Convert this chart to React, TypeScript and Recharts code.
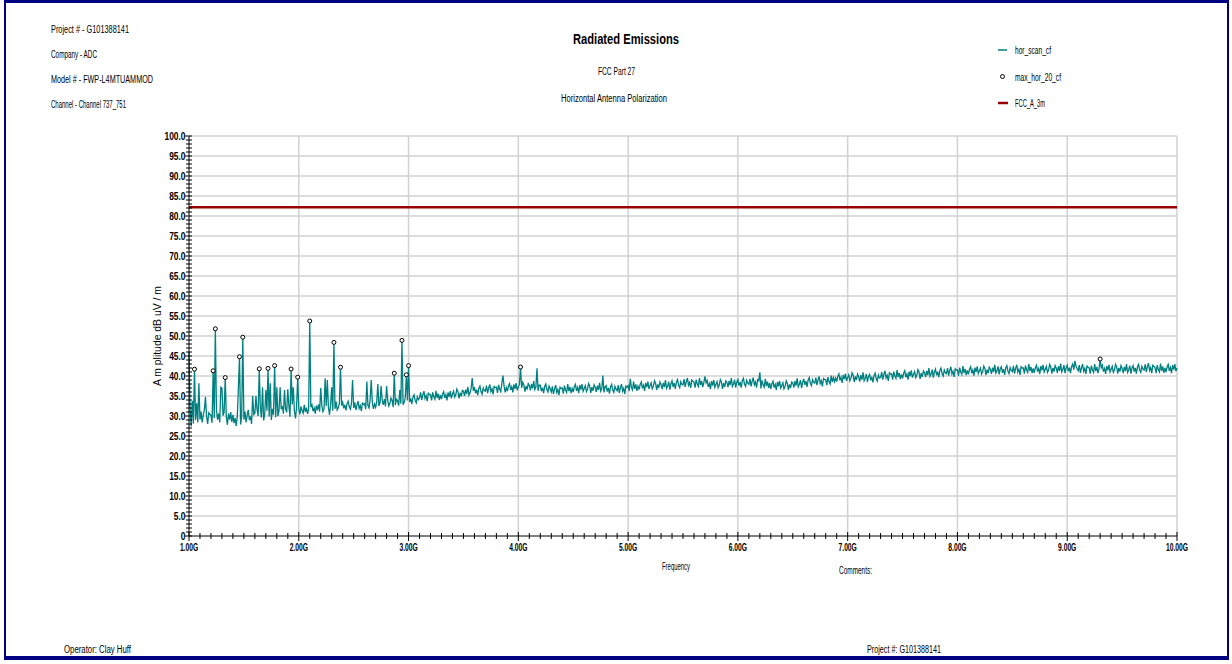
import React from 'react';
import { ComposedChart, Line, XAxis, YAxis, CartesianGrid } from 'recharts';

const FONT = "'Liberation Sans', Arial, sans-serif";
const TEAL = '#008080';
const LIMIT_RED = '#990000';
const NAVY = '#000080';

// hor_scan_cf trace, 1.00 GHz to 10.00 GHz, one reading every 10 MHz (dBuV/m)
const scanStartGHz = 1.0;
const scanStepGHz = 0.01;
const scanLevels: number[] = [
  // 1.0 GHz
  46.0, 31.5, 27.4, 33.8, 28.1, 41.7, 29.0, 33.2, 28.4, 38.2,
  29.1, 31.1, 28.4, 30.2, 31.5, 34.8, 29.9, 28.0, 30.8, 30.4,
  30.2, 28.3, 41.3, 29.5, 51.8, 31.6, 29.1, 30.6, 28.4, 37.2,
  37.0, 30.1, 30.9, 39.6, 29.8, 27.8, 30.6, 29.1, 31.0, 28.5,
  30.3, 28.2, 29.5, 27.5, 29.9, 37.0, 44.8, 27.9, 30.0, 49.7,
  29.1, 31.1, 28.4, 30.2, 31.5, 29.0, 29.9, 28.0, 35.0, 30.4,
  30.7, 35.0, 31.6, 30.0, 41.8, 32.1, 29.6, 37.2, 28.9, 30.6,
  36.5, 31.3, 41.9, 29.9, 38.2, 29.0, 31.8, 30.3, 42.6, 29.7,
  37.2, 30.0, 31.3, 37.2, 31.7, 32.5, 30.6, 36.5, 31.8, 30.9,
  36.7, 32.5, 29.8, 41.75, 32.9, 37.2, 31.3, 29.4, 32.2, 39.7,
  // 2.0 GHz
  31.8, 30.4, 32.4, 31.3, 30.7, 32.8, 31.0, 32.1, 30.5, 31.7,
  53.75, 32.2, 32.8, 31.2, 32.0, 30.6, 32.6, 31.5, 32.9, 31.1,
  37.0, 32.6, 31.1, 31.7, 39.4, 32.5, 39.0, 32.2, 30.3, 32.8,
  37.2, 31.3, 48.4, 31.8, 33.6, 31.5, 32.1, 33.2, 42.2, 32.6,
  33.4, 31.9, 32.8, 31.4, 33.1, 33.7, 32.3, 31.7, 33.2, 39.0,
  32.0, 33.4, 31.5, 32.8, 33.7, 31.9, 32.6, 31.2, 33.2, 32.9,
  33.1, 31.7, 38.6, 32.6, 32.0, 34.1, 39.0, 33.4, 31.8, 33.0,
  32.2, 33.5, 38.0, 32.5, 33.3, 37.5, 33.9, 32.8, 34.2, 32.4,
  37.5, 34.0, 32.5, 33.1, 34.5, 33.9, 32.2, 40.7, 32.7, 34.2,
  33.8, 32.6, 36.5, 33.1, 48.9, 32.8, 33.4, 34.5, 40.3, 33.9,
  // 3.0 GHz
  42.6, 33.5, 34.4, 33.0, 34.7, 35.3, 33.9, 33.3, 34.8, 34.1,
  34.5, 35.9, 34.0, 35.3, 36.2, 34.4, 35.1, 33.7, 35.7, 35.4,
  35.3, 33.9, 35.9, 34.8, 34.2, 36.3, 34.5, 35.6, 34.0, 35.2,
  34.2, 35.5, 36.1, 34.5, 35.3, 33.9, 35.9, 34.8, 36.2, 34.4,
  35.5, 36.2, 34.7, 35.3, 36.7, 36.1, 34.4, 35.8, 34.9, 36.4,
  36.2, 35.0, 36.6, 35.5, 37.3, 35.2, 35.8, 36.9, 39.5, 36.3,
  37.2, 35.7, 36.6, 35.2, 36.9, 37.5, 36.1, 35.5, 37.0, 36.3,
  36.2, 37.6, 35.7, 37.0, 37.9, 36.1, 36.8, 35.4, 37.4, 37.1,
  37.2, 35.8, 37.8, 36.7, 36.1, 38.2, 40.1, 37.5, 35.9, 37.1,
  36.2, 37.5, 38.1, 36.5, 37.3, 35.9, 37.9, 36.8, 38.2, 36.4,
  // 4.0 GHz
  37.2, 37.9, 42.25, 37.0, 38.4, 37.8, 36.1, 37.5, 36.6, 38.1,
  37.6, 36.4, 38.0, 36.9, 38.7, 36.6, 37.2, 41.9, 36.3, 37.7,
  37.7, 36.2, 37.1, 35.7, 37.4, 38.0, 36.6, 36.0, 37.5, 36.8,
  36.0, 37.4, 35.5, 36.8, 37.7, 35.9, 36.6, 35.2, 37.2, 36.9,
  37.0, 35.6, 37.6, 36.5, 35.9, 38.0, 36.2, 37.3, 35.7, 36.9,
  36.0, 37.3, 37.9, 36.3, 37.1, 35.7, 37.7, 36.6, 38.0, 36.2,
  36.9, 37.6, 36.1, 36.7, 38.1, 37.5, 35.8, 37.2, 36.3, 37.8,
  37.2, 36.0, 37.6, 36.5, 38.3, 36.2, 36.8, 40.1, 35.9, 37.3,
  37.6, 36.1, 37.0, 35.6, 37.3, 37.9, 36.5, 35.9, 37.4, 36.7,
  36.3, 37.7, 35.8, 37.1, 38.0, 36.2, 36.9, 35.5, 37.5, 37.2,
  // 5.0 GHz
  37.6, 36.2, 39.3, 37.1, 36.5, 38.6, 36.8, 37.9, 36.3, 37.5,
  36.6, 37.9, 38.5, 36.9, 37.7, 36.3, 38.3, 37.2, 38.6, 36.8,
  37.6, 38.3, 36.8, 37.4, 38.8, 38.2, 36.5, 37.9, 37.0, 38.5,
  37.9, 36.7, 38.3, 37.2, 39.0, 36.9, 37.5, 38.6, 36.6, 38.0,
  38.8, 37.3, 38.2, 36.8, 38.5, 39.1, 37.7, 37.1, 38.6, 37.9,
  37.8, 39.2, 37.3, 38.6, 39.5, 37.7, 38.4, 37.0, 39.0, 38.7,
  38.5, 37.1, 39.1, 38.0, 37.4, 39.5, 37.7, 38.8, 37.2, 38.4,
  39.9, 38.3, 38.9, 37.3, 38.1, 36.7, 38.7, 37.6, 39.0, 37.2,
  37.9, 38.6, 37.1, 37.7, 39.1, 38.5, 36.8, 38.2, 37.3, 38.8,
  38.4, 37.2, 38.8, 37.7, 39.5, 37.4, 38.0, 39.1, 37.1, 38.5,
  // 6.0 GHz
  39.1, 37.6, 38.5, 37.1, 38.8, 39.4, 38.0, 37.4, 38.9, 38.2,
  37.9, 39.3, 37.4, 38.7, 39.6, 37.8, 38.5, 37.1, 39.1, 38.8,
  40.9, 36.9, 38.9, 37.8, 37.2, 39.3, 37.5, 38.6, 37.0, 38.2,
  36.8, 38.1, 38.7, 37.1, 37.9, 36.5, 38.5, 37.4, 38.8, 37.0,
  37.6, 38.3, 36.8, 37.4, 38.8, 38.2, 36.5, 37.9, 37.0, 38.5,
  38.3, 37.1, 38.7, 37.6, 39.4, 37.3, 37.9, 39.0, 37.0, 38.4,
  39.3, 37.8, 38.7, 37.3, 39.0, 39.6, 38.2, 37.6, 39.1, 38.4,
  38.2, 39.6, 37.7, 39.0, 39.9, 38.1, 38.8, 37.4, 39.4, 39.1,
  39.1, 37.7, 39.7, 38.6, 38.0, 40.1, 38.5, 39.6, 38.6, 39.5,
  38.6, 39.9, 40.5, 38.9, 39.7, 38.3, 40.3, 39.2, 40.6, 38.8,
  // 7.0 GHz
  39.6, 40.3, 38.8, 39.4, 40.8, 40.2, 38.5, 39.9, 39.0, 40.5,
  39.8, 38.6, 40.2, 39.1, 40.9, 38.8, 39.4, 40.5, 38.5, 39.9,
  40.4, 38.9, 39.8, 38.4, 40.1, 40.7, 39.3, 38.7, 40.2, 39.5,
  39.6, 41.0, 39.1, 40.4, 41.3, 39.5, 40.2, 38.8, 40.8, 40.5,
  40.5, 39.1, 41.1, 40.0, 39.4, 41.5, 39.7, 40.8, 39.2, 40.4,
  39.4, 40.7, 41.3, 39.7, 40.5, 39.1, 41.1, 40.0, 41.4, 39.6,
  40.4, 41.1, 39.6, 40.2, 41.6, 41.0, 39.3, 40.7, 39.8, 41.3,
  40.9, 39.7, 41.3, 40.2, 42.0, 39.9, 40.5, 41.6, 39.6, 41.0,
  41.7, 40.2, 41.1, 39.7, 41.4, 42.0, 40.6, 40.0, 41.5, 40.8,
  40.6, 42.0, 40.1, 41.4, 42.3, 40.5, 41.2, 39.8, 41.8, 41.5,
  // 8.0 GHz
  41.5, 40.1, 42.1, 41.0, 40.4, 42.5, 40.7, 41.8, 40.2, 41.4,
  40.4, 41.7, 42.3, 40.7, 41.5, 40.1, 42.1, 41.0, 42.4, 40.6,
  41.3, 42.0, 40.5, 41.1, 42.5, 41.9, 40.2, 41.6, 40.7, 42.2,
  41.7, 40.5, 42.1, 41.0, 42.8, 40.7, 41.3, 42.4, 40.4, 41.8,
  42.3, 40.8, 41.7, 40.3, 42.0, 42.6, 41.2, 40.6, 42.1, 41.4,
  41.1, 42.5, 40.6, 41.9, 42.8, 41.0, 41.7, 40.3, 42.3, 42.0,
  42.0, 40.6, 42.6, 41.5, 40.9, 43.0, 41.2, 42.3, 40.7, 41.9,
  40.8, 42.1, 42.7, 41.1, 41.9, 40.5, 42.5, 41.4, 42.8, 41.0,
  41.7, 42.4, 40.9, 41.5, 42.9, 42.3, 40.6, 42.0, 41.1, 42.6,
  42.0, 40.8, 42.4, 41.3, 43.1, 41.0, 41.6, 42.7, 40.7, 42.1,
  // 9.0 GHz
  42.7, 41.2, 42.1, 40.7, 42.4, 43.0, 41.6, 43.8, 42.5, 41.8,
  41.3, 42.7, 40.8, 42.1, 43.0, 41.2, 41.9, 40.5, 42.5, 42.2,
  42.0, 40.6, 42.6, 41.5, 40.9, 43.0, 41.2, 42.3, 40.7, 41.9,
  44.25, 42.1, 42.7, 41.1, 41.9, 40.5, 42.5, 41.4, 42.8, 41.0,
  41.7, 42.4, 40.9, 41.5, 42.9, 42.3, 40.6, 42.0, 41.1, 42.6,
  41.9, 40.7, 42.3, 41.2, 43.0, 40.9, 41.5, 42.6, 40.6, 42.0,
  42.6, 41.1, 42.0, 40.6, 42.3, 42.9, 41.5, 40.9, 42.4, 41.7,
  41.5, 42.9, 41.0, 42.3, 43.2, 41.4, 42.1, 40.7, 42.7, 42.4,
  42.1, 40.7, 42.7, 41.6, 41.0, 43.1, 41.3, 42.4, 40.8, 42.0,
  41.0, 42.3, 42.9, 41.3, 42.1, 40.7, 42.7, 41.6, 43.0, 41.2,
  // 10.0 GHz
  42.0,
];

// max_hor_20_cf peak list
const peakFreqs = [1.05, 1.22, 1.24, 1.33, 1.46, 1.49, 1.64, 1.72, 1.78, 1.93, 1.99, 2.1, 2.32, 2.38, 2.87, 2.94, 2.98, 3.0, 4.02, 9.3];
const peakLevels = [41.7, 41.3, 51.8, 39.6, 44.8, 49.7, 41.8, 41.9, 42.6, 41.75, 39.7, 53.75, 48.4, 42.2, 40.7, 48.9, 40.3, 42.6, 42.25, 44.25];

// FCC_A_3m limit
const limitFreqs = [1, 10];
const limitLevels = [82.2, 82.2];

const freqMajorTicks = [1, 2, 3, 4, 5, 6, 7, 8, 9, 10];
const levelMajorTicks = [0, 5, 10, 15, 20, 25, 30, 35, 40, 45, 50, 55, 60, 65, 70, 75, 80, 85, 90, 95, 100];

// minor ticks: every 0.1 GHz and every 1 dB
const freqTicks: number[] = [];
for (let i = 0; i <= 90; i++) freqTicks.push(Math.round((1 + i * 0.1) * 10) / 10);
const levelTicks: number[] = [];
for (let i = 0; i <= 100; i++) levelTicks.push(i);

const scanData = scanLevels.map((v, i) => ({ f: Math.round((scanStartGHz + i * scanStepGHz) * 100) / 100, v }));
const peakData = peakFreqs.map((f, i) => ({ f, v: peakLevels[i] }));
const limitData = limitFreqs.map((f, i) => ({ f, v: limitLevels[i] }));

const FreqTick = (props: any) => {
  const { x, y, payload } = props;
  const v = payload.value as number;
  const major = Math.abs(v - Math.round(v)) < 1e-6;
  return (
    <g>
      <line x1={x} x2={x} y1={y - (major ? 4 : 3)} y2={y + (major ? 5 : 3)} stroke="#000" strokeWidth={1} />
      {major && (
        <text transform={`translate(${x},${y + 15}) scale(0.67,1)`} textAnchor="middle" fontSize={10} fontWeight="bold" fontFamily={FONT} fill="#000">
          {v.toFixed(2)}G
        </text>
      )}
    </g>
  );
};

const LevelTick = (props: any) => {
  const { x, y, payload } = props;
  const v = payload.value as number;
  const major = v % 5 === 0;
  return (
    <g>
      <line x1={x - (major ? 4 : 3)} x2={x + 3} y1={y} y2={y} stroke="#000" strokeWidth={1} />
      {major && (
        <text transform={`translate(${x - 3.5},${y + 3.8}) scale(0.8,1)`} textAnchor="end" fontSize={10.5} fontWeight="bold" fontFamily={FONT} fill="#000">
          {v === 0 ? '0' : v.toFixed(1)}
        </text>
      )}
    </g>
  );
};

const PeakDot = (props: any) => {
  const { cx, cy, index } = props;
  return <circle key={index} cx={cx} cy={cy} r={2} fill="#fff" stroke="#000" strokeWidth={1} />;
};

const Txt = ({ x, y, w, size = 10, bold = false, children }: any) => (
  <text x={x} y={y} fontSize={size} fontWeight={bold ? 'bold' : 'normal'} fontFamily={FONT} fill="#000" textLength={w} lengthAdjust="spacingAndGlyphs">
    {children}
  </text>
);

export default function App() {
  return (
    <div style={{ position: 'absolute', left: 0, top: 0, width: 1232, height: 664, background: '#fff' }}>
      <div
        style={{
          position: 'absolute',
          left: 4,
          top: 0,
          width: 1225,
          height: 660,
          boxSizing: 'border-box',
          borderTop: `3px solid ${NAVY}`,
          borderLeft: `2px solid ${NAVY}`,
          borderRight: `2px solid ${NAVY}`,
          borderBottom: `4px solid ${NAVY}`,
        }}
      />
      <div style={{ position: 'absolute', left: 0, top: 0 }}>
        <ComposedChart width={1232} height={664} margin={{ top: 136, right: 55, bottom: 127, left: 188 }}>
          <CartesianGrid
            stroke="#d2d2d2"
            strokeWidth={1.5}
            horizontalValues={levelMajorTicks.filter((v) => v > 0)}
            verticalValues={freqMajorTicks.filter((v) => v > 1)}
          />
          <XAxis
            type="number"
            dataKey="f"
            domain={[1, 10]}
            ticks={freqTicks}
            interval={0}
            height={1}
            tickSize={0}
            tickMargin={0}
            tickLine={false}
            tick={FreqTick}
            axisLine={{ stroke: '#000' }}
          />
          <YAxis
            type="number"
            domain={[0, 100]}
            ticks={levelTicks}
            interval={0}
            width={1}
            tickSize={0}
            tickMargin={0}
            tickLine={false}
            tick={LevelTick}
            axisLine={{ stroke: '#000' }}
          />
          <Line data={scanData} dataKey="v" stroke={TEAL} strokeWidth={1.3} dot={false} isAnimationActive={false} />
          <Line data={peakData} dataKey="v" stroke="none" dot={PeakDot} isAnimationActive={false} />
          <Line data={limitData} dataKey="v" stroke={LIMIT_RED} strokeWidth={2.5} dot={false} isAnimationActive={false} />
        </ComposedChart>
      </div>
      <svg width={1232} height={664} style={{ position: 'absolute', left: 0, top: 0, pointerEvents: 'none' }}>
        <Txt x={51} y={32.8} w={78} size={10.5}>Project # - G101388141</Txt>
        <Txt x={51} y={57.8} w={46} size={10.5}>Company - ADC</Txt>
        <Txt x={51} y={82.8} w={102} size={10.5}>Model # - FWP-L4MTUAMMOD</Txt>
        <Txt x={51} y={107.5} w={75} size={10.5}>Channel - Channel 737_751</Txt>

        <Txt x={573} y={44} w={106} size={14} bold>Radiated Emissions</Txt>
        <Txt x={598} y={75.3} w={37} size={10}>FCC Part 27</Txt>
        <Txt x={561} y={101.9} w={106} size={10}>Horizontal Antenna Polarization</Txt>

        <line x1={998} x2={1007} y1={50} y2={50} stroke={TEAL} strokeWidth={1.5} />
        <Txt x={1015} y={53.6} w={36} size={10}>hor_scan_cf</Txt>
        <circle cx={1002.5} cy={76.5} r={2} fill="#fff" stroke="#000" strokeWidth={1} />
        <Txt x={1015} y={81.3} w={46} size={10}>max_hor_20_cf</Txt>
        <line x1={998} x2={1008} y1={103} y2={103} stroke={LIMIT_RED} strokeWidth={2.5} />
        <Txt x={1015} y={106.9} w={30} size={10}>FCC_A_3m</Txt>

        <text
          transform="translate(161,336) rotate(-90)"
          textAnchor="middle"
          fontSize={10.5}
          fontFamily={FONT}
          fill="#000"
          textLength={100}
          lengthAdjust="spacingAndGlyphs"
        >
          A m plitude dB uV / m
        </text>

        <Txt x={662} y={569.6} w={28} size={10}>Frequency</Txt>
        <Txt x={839} y={573.6} w={33} size={10}>Comments:</Txt>
        <Txt x={64} y={652.6} w={67} size={10}>Operator: Clay Huff</Txt>
        <Txt x={867} y={652.6} w={74} size={10}>Project #: G101388141</Txt>
      </svg>
    </div>
  );
}
